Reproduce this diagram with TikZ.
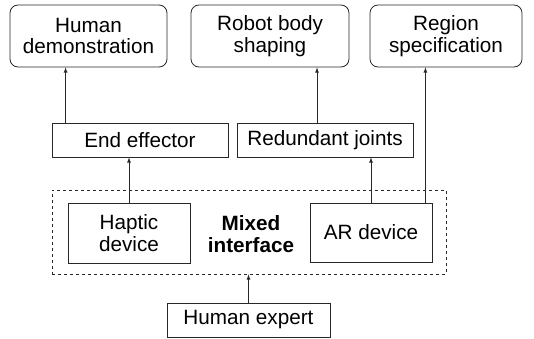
\documentclass[tikz,border=0pt]{standalone}
\usepackage{fontspec}
\setmainfont{Liberation Sans}
\usepackage{tikz}
\usetikzlibrary{arrows,shapes,positioning}
\usepackage{xcolor}
\definecolor{ifgray}{RGB}{40,40,40}
\tikzstyle{arrow} = [line width=0.8pt,->,>=latex,color=ifgray]
\tikzstyle{goal} = [draw=ifgray, line width=0.8pt, rounded corners=8pt, align=center, inner sep=0pt]
\tikzstyle{part} = [draw=ifgray, line width=0.8pt, align=center, inner sep=0pt]

\begin{document}
\begin{tikzpicture}[x=1pt, y=1pt, font=\fontsize{20.7}{21.5}\selectfont]
\useasboundingbox (0,0) rectangle (534,338);
% Top row: tasks
\node[goal, minimum width=157, minimum height=62] (hdemo) at (88.5,302) {Human\\demonstration};
\node[goal, minimum width=158, minimum height=62] (rbody) at (270,302) {Robot body\\shaping};
\node[goal, minimum width=152, minimum height=62] (region) at (446,302) {Region\\specification};

% Middle row: robot parts
\node[part, minimum width=176, minimum height=34] (endeff) at (140,198) {End effector};
\node[part, minimum width=176, minimum height=34] (redund) at (325,198) {Redundant joints};

% Mixed interface
\node[draw=ifgray, line width=0.8pt, dashed, minimum width=394, minimum height=84] (mixbox) at (249,106) {};
\node[part, minimum width=122, minimum height=60] (haptic) at (129,105) {Haptic\\device};
\node[part, minimum width=122, minimum height=59] (ar) at (371,105.5) {AR device};
\node[align=center, font=\fontsize{20.7}{21.5}\selectfont\bfseries] (mixed) at (251,104) {Mixed\\interface};

% Operator
\node[part, minimum width=163, minimum height=34] (expert) at (248.5,18) {Human expert};

% Connections
\draw[arrow] (expert.north) -- (expert.north |- mixbox.south);
\draw[arrow] (haptic.north) -- (haptic.north |- endeff.south);
\draw[arrow] (ar.north) -- (ar.north |- redund.south);
\draw[arrow] ([xshift=14pt]endeff.north west) -- ([xshift=14pt]endeff.north west |- hdemo.south);
\draw[arrow] ([xshift=-8pt]redund.north) -- ([xshift=-8pt]redund.north |- rbody.south);
\draw[arrow] ([xshift=-7pt]ar.north east) -- ([xshift=-7pt]ar.north east |- region.south);
\end{tikzpicture}
\end{document}
